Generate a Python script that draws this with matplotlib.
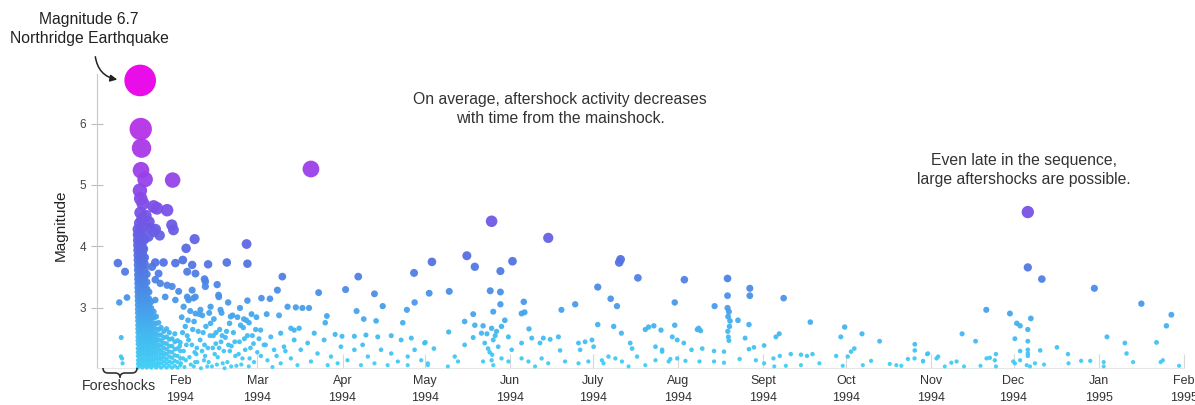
import numpy as np
import matplotlib.pyplot as plt
from matplotlib.colors import LinearSegmentedColormap
from matplotlib.path import Path
from matplotlib.patches import PathPatch

W, H = 1195, 405
plt.rcParams['font.family'] = ['Liberation Sans', 'DejaVu Sans']

# time axis: days counted from 1 Jan 1994
mainshock_day = [16.4]
mainshock_mag = [6.7]

foreshock_day = [8.3, 10.9, 11.6, 8.8, 9.5, 9.4, 9.8, 10.0]
foreshock_mag = [3.73, 3.59, 3.17, 3.09, 2.52, 2.21, 2.18, 2.10]

# largest aftershocks
big_day = [16.6, 16.9, 16.7, 18.2, 28.2, 78.5, 144.2, 164.8, 339.2]
big_mag = [5.91, 5.60, 5.24, 5.09, 5.08, 5.26, 4.41, 4.14, 4.56]

# top of the early column
top_day = [16.3, 16.6, 17.4, 21.3, 26.2, 22.5, 16.5, 18.4, 17.1, 19.6, 27.9, 28.5, 20.0,
           19.4, 21.4, 16.2, 17.6, 16.4, 18.0, 16.8, 17.6, 22.0, 23.5, 36.2, 33.1, 55.1]
top_mag = [4.91, 4.78, 4.70, 4.65, 4.59, 4.62, 4.55, 4.50, 4.44, 4.40, 4.35, 4.27, 4.30,
           4.16, 4.24, 4.38, 4.32, 4.22, 4.12, 4.04, 3.96, 4.28, 4.18, 4.12, 3.97, 4.04]

# dense column of the first two weeks (one list of magnitudes per day)
core_days = [15.6, 16.4, 17.2, 18.0, 18.8, 19.6, 20.4, 21.3, 22.2, 23.1, 24.0, 25.0, 26.0,
             27.0, 28.0, 29.0, 30.0, 31.0]
core_mags = [
    [2.03, 2.09, 2.15, 2.22, 2.28, 2.34, 2.41, 2.47, 2.53, 2.60, 2.66, 2.72, 2.79, 2.85, 2.92,
     2.98, 3.05, 3.12, 3.19, 3.26, 3.33, 3.40, 3.47, 3.54, 3.62, 3.70, 3.78, 3.86, 3.94, 4.02,
     4.10, 4.19, 4.28],
    [2.06, 2.12, 2.18, 2.25, 2.31, 2.37, 2.44, 2.50, 2.56, 2.63, 2.69, 2.76, 2.82, 2.89, 2.95,
     3.02, 3.09, 3.16, 3.23, 3.30, 3.37, 3.44, 3.51, 3.58, 3.66, 3.74, 3.82, 3.90, 3.98, 4.06,
     4.15, 4.24],
    [2.03, 2.09, 2.15, 2.22, 2.28, 2.34, 2.41, 2.47, 2.53, 2.60, 2.66, 2.72, 2.79, 2.85, 2.92,
     2.98, 3.05, 3.12, 3.19, 3.26, 3.33, 3.40, 3.47, 3.55, 3.63, 3.71, 3.80, 3.89, 3.98, 4.08],
    [2.06, 2.12, 2.18, 2.25, 2.31, 2.37, 2.44, 2.50, 2.56, 2.63, 2.69, 2.76, 2.82, 2.89, 2.95,
     3.02, 3.09, 3.16, 3.23, 3.30, 3.38, 3.46, 3.54, 3.63, 3.72, 3.82],
    [2.03, 2.09, 2.15, 2.22, 2.28, 2.34, 2.41, 2.47, 2.53, 2.60, 2.66, 2.72, 2.79, 2.85, 2.92,
     2.99, 3.06, 3.14, 3.22, 3.31, 3.42, 3.55],
    [2.06, 2.12, 2.18, 2.25, 2.31, 2.37, 2.44, 2.50, 2.56, 2.63, 2.69, 2.76, 2.83, 2.90, 2.98,
     3.06, 3.15, 3.26],
    [2.03, 2.09, 2.15, 2.22, 2.28, 2.34, 2.41, 2.47, 2.54, 2.61, 2.68, 2.75, 2.83, 2.91, 3.00, 3.10],
    [2.06, 2.12, 2.18, 2.25, 2.31, 2.38, 2.45, 2.52, 2.59, 2.67, 2.75, 2.84, 2.94],
    [2.03, 2.09, 2.16, 2.22, 2.29, 2.36, 2.43, 2.50, 2.58, 2.66, 2.75, 2.86],
    [2.06, 2.12, 2.19, 2.26, 2.33, 2.40, 2.48, 2.56, 2.65, 2.76],
    [2.03, 2.10, 2.17, 2.24, 2.31, 2.39, 2.47, 2.56, 2.68],
    [2.06, 2.13, 2.20, 2.27, 2.35, 2.43, 2.52, 2.62],
    [2.03, 2.10, 2.17, 2.25, 2.33, 2.42, 2.53, 2.66],
    [2.06, 2.13, 2.21, 2.29, 2.38, 2.49, 2.60],
    [2.03, 2.11, 2.19, 2.28, 2.38, 2.50],
    [2.06, 2.14, 2.23, 2.33, 2.45, 2.58],
    [2.03, 2.12, 2.22, 2.34, 2.47],
    [2.07, 2.18, 2.30, 2.44],
]

# Feb - Mar, magnitude ~3 - 3.8
febmid_day = [20.7, 21.9, 24.9, 29.2, 31.9, 35.3, 41.1, 47.9, 55.4, 33.5, 36.5, 23.1, 21.9, 23.7,
              26.2, 28.0, 30.4, 35.3, 36.5, 40.1, 40.1, 45.0, 34.0, 29.2, 25.5, 21.9, 44.4, 44.9,
              35.8, 39.8, 55.4, 60.5, 63.6, 48.4, 52.7, 33.5, 38.3, 42.0, 45.6, 49.3, 32.2, 36.5]
febmid_mag = [3.67, 3.74, 3.74, 3.73, 3.78, 3.70, 3.71, 3.74, 3.72, 3.59, 3.56, 3.56, 3.46, 3.40,
              3.37, 3.35, 3.27, 3.29, 3.18, 3.43, 3.35, 3.18, 3.13, 3.13, 3.18, 3.13, 3.38, 3.21,
              3.16, 3.47, 3.12, 3.16, 3.15, 3.09, 3.00, 3.18, 2.97, 3.02, 2.97, 2.86, 3.02, 2.91]

# Feb - Mar, small shocks
feblow_day = [31.5, 32.8, 33.5, 34.6, 35.2, 36.0, 36.8, 37.5, 38.2, 39.0, 39.6, 40.3, 41.0, 41.8,
              42.5, 43.2, 43.9, 44.6, 45.3, 46.0, 46.8, 47.4, 48.1, 48.9, 49.6, 50.3, 51.0, 51.8,
              52.5, 53.2, 53.9, 54.6, 55.4, 56.2, 56.9, 57.6, 58.4, 59.0,
              31.2, 32.2, 33.0, 34.0, 35.9, 37.0, 38.5, 40.0, 42.0, 44.0, 45.8, 47.8, 49.5, 50.8,
              52.2, 54.3, 55.9, 57.8, 59.6,
              31.8, 33.8, 35.5, 37.9, 39.3, 41.5, 43.5, 46.4, 48.5, 50.0, 52.9, 55.0, 57.2, 58.7,
              30.8, 32.5, 34.3, 36.4, 38.9, 41.3, 43.0, 45.1, 47.1, 49.0, 51.4, 53.6, 56.5, 60.3,
              62.0, 64.5, 66.0, 69.2,
              32.0, 33.2, 34.8, 36.2, 37.2, 39.8, 40.8, 42.8, 44.3, 46.2]
feblow_mag = [2.85, 2.70, 2.55, 2.95, 2.40, 2.78, 2.25, 2.62, 2.48, 2.88, 2.15, 2.70, 2.35, 2.55,
              2.05, 2.82, 2.42, 2.20, 2.65, 2.92, 2.30, 2.52, 2.12, 2.75, 2.38, 2.60, 2.22, 2.85,
              2.45, 2.08, 2.68, 2.32, 2.55, 2.18, 2.90, 2.42, 2.65, 2.28,
              2.10, 2.30, 2.15, 2.48, 2.05, 2.35, 2.02, 2.22, 2.75, 2.60, 2.45, 2.62, 2.05, 2.45,
              2.25, 2.50, 2.05, 2.12, 2.50,
              2.60, 2.80, 2.65, 2.90, 2.60, 2.92, 2.25, 2.10, 2.40, 2.88, 2.72, 2.80, 2.55, 2.85,
              2.38, 2.04, 2.20, 2.12, 2.30, 2.12, 2.55, 2.35, 2.02, 2.30, 2.06, 2.18, 2.35, 2.22,
              2.40, 2.04, 2.22, 2.30,
              2.18, 2.40, 2.08, 2.28, 2.12, 2.40, 2.05, 2.35, 2.08, 2.55]

# Mar - May
spring_day = [66.3, 68.1, 81.3, 91.1, 95.7, 101.6, 116.0, 121.5, 122.5, 70.0, 73.0, 75.4, 77.8,
              104.6, 116.2, 113.4, 95.1, 84.3, 97.7, 102.2, 111.9, 62.4, 66.9, 54.1, 56.0, 83.7,
              74.2, 72.4, 87.3, 89.8, 94.3, 98.5, 102.8, 107.7, 111.3, 115.0, 119.8,
              60.2, 63.9, 67.5, 71.2, 61.4, 65.1, 68.7, 72.4, 74.8, 77.3, 79.7, 80.9, 83.3, 85.8,
              89.4, 91.8, 94.3, 97.3, 99.2, 101.6, 104.0, 107.7, 110.1, 113.7, 116.2, 118.6, 121.0,
              62.7, 67.5, 71.2, 73.6, 78.5, 84.6, 88.2, 96.7, 106.4, 113.7]
spring_mag = [3.29, 3.51, 3.25, 3.30, 3.51, 3.23, 3.57, 3.24, 3.75, 3.02, 3.01, 3.00, 3.00,
              3.03, 3.09, 2.97, 2.95, 2.87, 2.82, 2.79, 2.76, 2.90, 2.88, 2.82, 2.76, 2.76,
              2.67, 2.64, 2.57, 2.54, 2.54, 2.56, 2.53, 2.55, 2.48, 2.51, 2.43,
              2.64, 2.53, 2.59, 2.67, 2.40, 2.32, 2.37, 2.48, 2.32, 2.43, 2.59, 2.26, 2.48, 2.21,
              2.37, 2.15, 2.32, 2.40, 2.21, 2.10, 2.32, 2.26, 2.13, 2.21, 2.32, 2.15, 2.07,
              2.15, 2.10, 2.18, 2.07, 2.13, 2.07, 2.10, 2.07, 2.07, 2.07]

# May - Jul
summer_day = [135.2, 138.1, 147.4, 151.8, 191.1, 190.6, 197.4, 128.8, 143.7, 147.4, 147.4, 155.9,
              155.1, 156.2, 169.6, 174.6, 182.8, 187.5, 189.8, 144.8, 137.5, 134.4, 149.0, 147.8,
              144.2, 141.1, 138.1, 128.6, 157.8, 182.8, 188.6, 191.4, 200.1, 201.3, 203.2, 205.8,
              120.1, 123.2, 130.8, 134.4, 137.5, 140.5, 141.7, 142.9, 144.8, 146.6, 150.3, 151.5,
              155.1, 158.8, 161.8, 163.0, 165.5, 168.5, 169.1, 175.8, 178.2, 180.7, 181.3, 176.4,
              184.3, 186.7, 189.2, 194.6, 195.3, 197.1, 203.8, 206.2, 121.0, 128.3, 132.0, 141.1,
              144.2, 144.8, 144.4, 147.8, 150.3, 155.1, 157.6, 160.0, 162.4, 164.8, 170.9, 175.8,
              179.4, 184.9, 191.6, 194.0, 200.1, 203.8, 208.6, 143.5, 145.5, 146.0, 142.5]
summer_mag = [3.85, 3.67, 3.60, 3.76, 3.79, 3.74, 3.49, 3.27, 3.28, 3.26, 3.06, 3.10,
              2.91, 2.93, 2.97, 3.06, 3.34, 3.15, 3.03, 2.94, 2.90, 2.78, 2.80, 2.70,
              2.67, 2.71, 2.72, 2.61, 2.66, 2.73, 2.70, 2.59, 2.65, 2.69, 2.71, 2.64,
              2.44, 2.34, 2.21, 2.40, 2.52, 2.59, 2.43, 2.34, 2.48, 2.37, 2.53, 2.32,
              2.43, 2.51, 2.43, 2.51, 2.49, 2.53, 2.31, 2.43, 2.45, 2.48, 2.37, 2.32,
              2.15, 2.21, 2.18, 2.43, 2.34, 2.21, 2.37, 2.29, 2.10, 2.05, 2.13, 2.13,
              2.15, 2.07, 2.24, 2.18, 2.13, 2.18, 2.13, 2.05, 2.18, 2.10, 2.13, 2.10,
              2.13, 2.10, 2.13, 2.05, 2.07, 2.15, 2.13, 2.28, 2.55, 2.62, 2.58]

# Aug - Oct
autumn_day = [214.3, 230.0, 238.1, 238.1, 250.4, 210.8, 230.0, 225.3, 230.0, 230.5, 230.9, 233.8,
              237.8, 210.8, 219.0, 220.2, 219.5, 260.1, 272.6, 278.9, 285.3, 298.1, 298.1, 271.2,
              247.6, 248.8, 230.1, 230.3, 230.5, 230.7, 230.2, 236.4, 243.3, 237.8, 239.6, 209.9,
              211.7, 214.1, 206.2, 216.9, 220.8, 225.1, 228.7, 276.1, 274.9, 273.7, 269.5, 253.0,
              256.7, 258.9, 260.9, 246.7, 249.0, 298.0, 301.1, 302.9, 289.0, 291.4, 293.2, 295.6,
              209.2, 211.7, 214.7, 219.8, 225.1, 228.7, 234.4, 240.3, 279.2, 282.2, 271.9, 263.4,
              256.7, 251.2, 247.0, 243.3]
autumn_mag = [3.46, 3.48, 3.32, 3.20, 3.16, 3.09, 3.20, 3.03, 3.00, 2.94, 2.79, 2.80,
              2.73, 2.72, 2.65, 2.63, 2.67, 2.77, 2.69, 2.58, 2.46, 2.41, 2.31, 2.53,
              2.53, 2.58, 2.62, 2.53, 2.47, 2.70, 2.86, 2.51, 2.39, 2.33, 2.36, 2.53,
              2.48, 2.43, 2.32, 2.32, 2.34, 2.30, 2.29, 2.34, 2.29, 2.21, 2.22, 2.25,
              2.24, 2.22, 2.25, 2.18, 2.22, 2.18, 2.14, 2.26, 2.09, 2.07, 2.06, 2.17,
              2.17, 2.18, 2.14, 2.13, 2.13, 2.11, 2.17, 2.15, 2.07, 2.14, 2.06, 2.10,
              2.07, 2.06, 2.05, 2.10]

# Nov 1994 - Jan 1995
winter_day = [339.2, 344.3, 363.4, 380.5, 391.4, 389.6, 324.1, 332.7, 335.2, 336.4, 340.3, 339.2,
              315.3, 320.2, 334.5, 339.2, 339.2, 339.2, 339.2, 336.4, 343.7, 349.8, 353.8, 354.0,
              368.0, 374.5, 375.1, 377.5, 386.0, 388.3, 387.5, 394.2, 366.8, 366.8, 361.9, 358.6,
              327.6, 324.2, 325.4, 327.2, 327.6, 322.0, 316.0, 313.3, 311.4, 309.0, 306.6, 306.0,
              302.6, 301.1, 333.9, 334.5, 336.4, 338.8, 340.0, 341.8, 345.1]
winter_mag = [3.66, 3.47, 3.32, 3.07, 2.89, 2.71, 2.97, 2.91, 2.75, 2.71, 2.83, 2.65,
              2.58, 2.46, 2.50, 2.46, 2.32, 2.26, 2.22, 2.30, 2.31, 2.36, 2.25, 2.10,
              2.53, 2.43, 2.26, 2.12, 2.44, 2.15, 2.12, 2.06, 2.12, 2.05, 2.14, 2.14,
              2.25, 2.18, 2.19, 2.15, 2.05, 2.06, 2.05, 2.13, 2.11, 2.05, 2.21, 2.18,
              2.25, 2.13, 2.13, 2.10, 2.15, 2.07, 2.05, 2.10, 2.08]

tick_days = [31, 59, 90, 120, 151, 181, 212, 243, 273, 304, 334, 365, 396]
tick_labels = ['Feb\n1994', 'Mar\n1994', 'Apr\n1994', 'May\n1994', 'Jun\n1994', 'July\n1994',
               'Aug\n1994', 'Sept\n1994', 'Oct\n1994', 'Nov\n1994', 'Dec\n1994', 'Jan\n1995',
               'Feb\n1995']

core_day = [d for d, ms in zip(core_days, core_mags) for _ in ms]
core_mag = [m for ms in core_mags for m in ms]

day = np.array(foreshock_day + mainshock_day + big_day + top_day + core_day + febmid_day
               + feblow_day + spring_day + summer_day + autumn_day + winter_day)
mag = np.array(foreshock_mag + mainshock_mag + big_mag + top_mag + core_mag + febmid_mag
               + feblow_mag + spring_mag + summer_mag + autumn_mag + winter_mag)

cmap = LinearSegmentedColormap.from_list('quake', [
    (0.0, '#3fd0f7'), (0.128, '#42b8f0'), (0.255, '#4a92e8'), (0.383, '#5570e2'),
    (0.511, '#7058e6'), (0.681, '#9a40e8'), (0.851, '#b830e6'), (1.0, '#e800e8')])

order = np.argsort(mag, kind='stable')
diam = 4.0 * np.exp(0.44 * (mag - 2.0))   # marker diameter in pixels
sizes = (diam * 0.72) ** 2


def fx(x):
    return x / W


def fy(y):
    return 1 - y / H


fig = plt.figure(figsize=(W / 100, H / 100), dpi=100)
ax = fig.add_axes([fx(97), fy(368), (1184 - 97) / W, (368 - 74) / H])
ax.scatter(day[order], mag[order], s=sizes[order], c=mag[order], cmap=cmap,
           vmin=2.0, vmax=6.7, linewidths=0, alpha=0.95, clip_on=False, zorder=3)

ax.set_xlim(0.7, 396)
ax.set_ylim(2.024, 6.805)
ax.set_xticks(tick_days)
ax.set_xticklabels(tick_labels, fontsize=9, color='#333333', linespacing=1.55)
ax.set_yticks([3, 4, 5, 6])
ax.set_yticklabels(['3', '4', '5', '6'], fontsize=8.5, color='#444444')
ax.tick_params(axis='x', direction='in', length=10, width=0.8, color='#d8d8d8', pad=5)
ax.tick_params(axis='y', direction='inout', length=8, width=0.8, color='#bbbbbb', pad=4)
for side in ['top', 'right']:
    ax.spines[side].set_visible(False)
ax.spines['left'].set_color('#c8c8c8')
ax.spines['left'].set_linewidth(0.8)
ax.spines['bottom'].set_color('#e6e6e6')
ax.spines['bottom'].set_linewidth(0.8)

fig.text(fx(61), fy(225), 'Magnitude', rotation=90, ha='center', va='center',
         fontsize=11, color='#222222')

# foreshock brace
verts = [(103, 368), (103, 373), (108, 373), (115, 373), (120, 373), (120, 377.5),
         (120, 373), (125, 373), (132, 373), (137, 373), (137, 368)]
codes = [Path.MOVETO, Path.CURVE3, Path.CURVE3, Path.LINETO, Path.CURVE3, Path.CURVE3,
         Path.CURVE3, Path.CURVE3, Path.LINETO, Path.CURVE3, Path.CURVE3]
brace = Path([(fx(x), fy(y)) for x, y in verts], codes)
fig.add_artist(PathPatch(brace, fill=False, lw=1.2, ec='#333333', transform=fig.transFigure))
fig.text(fx(119), fy(386), 'Foreshocks', ha='center', va='center', fontsize=10.3, color='#333333')

fig.text(fx(89), fy(29), 'Magnitude 6.7\nNorthridge Earthquake', ha='center', va='center',
         fontsize=11.3, color='#222222', linespacing=1.3)
ax.annotate('', xy=(120, H - 80), xycoords='figure pixels',
            xytext=(95, H - 54), textcoords='figure pixels',
            arrowprops=dict(arrowstyle='-|>', color='#222222', lw=1.1,
                            connectionstyle='arc3,rad=0.4', mutation_scale=10))

fig.text(fx(560), fy(109), 'On average, aftershock activity decreases\nwith time from the mainshock.',
         ha='center', va='center', fontsize=11.3, color='#333333', linespacing=1.3)
fig.text(fx(1024), fy(170), 'Even late in the sequence,\nlarge aftershocks are possible.',
         ha='center', va='center', fontsize=11.3, color='#333333', linespacing=1.3)

fig.savefig('out.png', dpi=100, facecolor='white')
